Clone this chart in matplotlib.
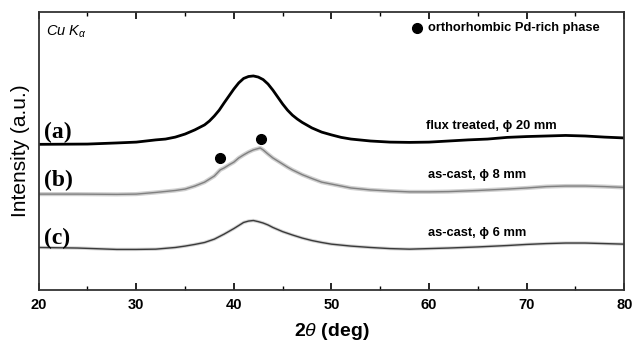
import matplotlib.pyplot as plt
from matplotlib.ticker import MultipleLocator

# 2theta (deg) and intensity (a.u.)
two_theta_a = [20, 25, 28, 30, 32, 33, 34, 35, 36, 37, 37.5, 38, 38.5, 39, 39.5,
               40, 40.5, 41, 41.5, 42, 42.5, 43, 43.5, 44, 44.5, 45, 45.5, 46,
               46.5, 47, 48, 49, 50, 51, 52, 54, 56, 58, 60, 62, 64, 66, 68, 70,
               72, 74, 76, 78, 80]
flux_20mm = [52.4, 52.5, 52.9, 53.2, 54.0, 54.3, 55.0, 56.1, 57.6, 59.4, 60.8, 62.6,
             64.7, 67.3, 69.8, 72.3, 74.5, 76.1, 76.8, 77.0, 76.6, 75.7, 74.1, 71.9,
             69.4, 66.9, 64.7, 62.9, 61.5, 60.3, 58.3, 56.8, 55.8, 54.9, 54.3, 53.6,
             53.2, 53.1, 53.2, 53.6, 54.0, 54.3, 54.9, 55.2, 55.4, 55.6, 55.4, 55.0,
             54.7]

two_theta_b = [20, 24, 28, 30, 32, 34, 35, 36, 37, 38, 38.6, 39, 39.5, 40, 40.5,
               41, 41.5, 42, 42.7, 43, 43.5, 44, 44.5, 45, 45.5, 46, 47, 48, 49,
               50, 52, 54, 56, 58, 60, 62, 65, 68, 70, 72, 74, 76, 78, 80]
ascast_8mm = [34.5, 34.5, 34.4, 34.5, 35.1, 35.8, 36.3, 37.4, 38.8, 41.0, 43.2, 43.9,
              45.0, 46.0, 47.5, 48.6, 49.6, 50.4, 51.1, 50.4, 48.9, 47.5, 46.4, 45.3,
              44.2, 43.2, 41.5, 40.1, 38.8, 38.1, 36.7, 36.0, 35.6, 35.3, 35.3, 35.4,
              35.8, 36.3, 36.7, 37.2, 37.4, 37.4, 37.2, 36.9]

two_theta_c = [20, 24, 28, 30, 32, 34, 35, 36, 37, 38, 39, 40, 40.5, 41, 41.5,
               42, 42.5, 43, 43.5, 44, 45, 46, 47, 48, 49, 50, 52, 54, 56, 58,
               60, 62, 65, 68, 70, 72, 74, 76, 78, 80]
ascast_6mm = [15.3, 15.1, 14.6, 14.6, 14.7, 15.3, 15.8, 16.4, 17.1, 18.3, 20.1, 22.1,
              23.2, 24.3, 24.8, 25.0, 24.6, 24.1, 23.4, 22.5, 21.0, 19.8, 18.7, 17.8,
              17.1, 16.5, 15.8, 15.3, 14.9, 14.7, 14.9, 15.1, 15.5, 16.0, 16.4, 16.7,
              16.9, 16.9, 16.7, 16.5]

# orthorhombic Pd-rich phase peaks
phase_theta = [38.6, 42.8]
phase_int = [47.5, 54.3]

plt.rcParams['font.family'] = ['Liberation Sans', 'DejaVu Sans']
plt.rcParams['mathtext.fontset'] = 'custom'
plt.rcParams['mathtext.it'] = 'Liberation Sans:italic'
plt.rcParams['mathtext.rm'] = 'Liberation Sans'

fig = plt.figure(figsize=(6.33, 3.46), dpi=100)
ax = fig.add_axes([0.0611, 0.1618, 0.925, 0.8035])

ax.plot(two_theta_a, flux_20mm, color='black', lw=2.0)
ax.plot(two_theta_b, ascast_8mm, color='#c4c4c4', lw=3.0, alpha=0.8)
ax.plot(two_theta_b, ascast_8mm, color='#808080', lw=1.0)
ax.plot(two_theta_c, ascast_6mm, color='#c8c8c8', lw=2.4, alpha=0.8)
ax.plot(two_theta_c, ascast_6mm, color='#3a3a3a', lw=1.0)
ax.plot(phase_theta, phase_int, 'o', color='black', ms=7)

ax.set_xlim(20, 80)
ax.set_ylim(0, 100)
ax.set_yticks([])
ax.xaxis.set_major_locator(MultipleLocator(10))
ax.xaxis.set_minor_locator(MultipleLocator(5))
ax.tick_params(axis='x', which='major', direction='in', length=5, width=1.2,
               top=True, labelsize=10.5, pad=6)
ax.tick_params(axis='x', which='minor', direction='in', length=3, width=1.0, top=True)
for lbl in ax.get_xticklabels():
    lbl.set_fontweight('bold')
for s in ax.spines.values():
    s.set_linewidth(1.3)
    s.set_color('#333333')

ax.set_xlabel(r'2$\theta$ (deg)', fontsize=14, fontweight='bold', labelpad=6)
ax.set_ylabel('Intensity (a.u.)', fontsize=15, labelpad=6)

ax.text(20.7, 96, r'$Cu\ K_\alpha$', fontsize=10.5, va='top', ha='left')

ax.plot([58.8], [94.3], 'o', color='black', ms=7)
ax.text(59.9, 94.3, 'orthorhombic Pd-rich phase', fontsize=9.3, fontweight='bold',
        va='center', ha='left')

serif = ['Liberation Serif', 'DejaVu Serif']
ax.text(20.5, 56.5, '(a)', family=serif, fontsize=17, fontweight='bold', va='center')
ax.text(20.5, 39.5, '(b)', family=serif, fontsize=17, fontweight='bold', va='center')
ax.text(20.5, 18.7, '(c)', family=serif, fontsize=17, fontweight='bold', va='center')

ax.text(59.7, 59.0, 'flux treated, \u03d5 20 mm', fontsize=9.3, fontweight='bold', va='center')
ax.text(59.9, 41.4, 'as-cast, \u03d5 8 mm', fontsize=9.3, fontweight='bold', va='center')
ax.text(59.9, 20.5, 'as-cast, \u03d5 6 mm', fontsize=9.3, fontweight='bold', va='center')

fig.savefig('out.png', dpi=100)
